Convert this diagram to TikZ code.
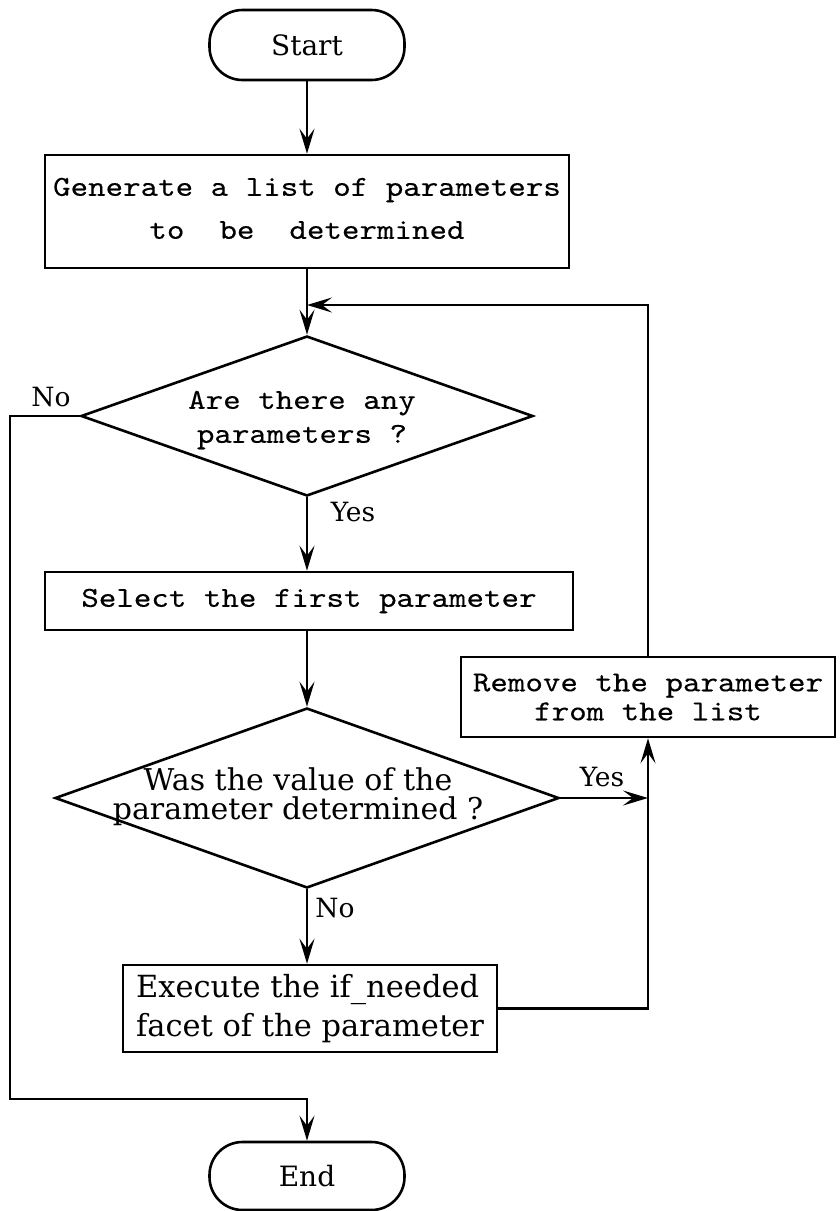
\documentclass[tikz,border=0pt]{standalone}
\usepackage{fontspec}
\usetikzlibrary{shapes.geometric,arrows.meta}
\newfontfamily\typew{lmmono10-regular.otf}[FakeStretch=1.15,FakeBold=0.25]
\newfontfamily\serifd{DejaVu Serif}

\begin{document}
\begin{tikzpicture}[x=1pt,y=-1pt,
  line width=2.6pt,
  flow/.style={draw, line width=2.6pt, inner sep=0pt, anchor=center},
  boxnode/.style={flow, rectangle},
  termnode/.style={flow, rectangle, rounded corners=33pt},
  decnode/.style={flow, diamond},
  mono/.style={font=\typew\fontsize{29}{34}\selectfont, align=center},
  serif/.style={font=\serifd\fontsize{28}{32}\selectfont},
  lbl/.style={font=\serifd\fontsize{26.5}{30}\selectfont, inner sep=0pt},
  arr/.style={-{Stealth[length=25pt,width=15pt,inset=10pt]}}
]
\useasboundingbox (0,0) rectangle (839,1211);

% terminals
\node[termnode, serif, minimum width=195pt, minimum height=70pt] (start) at (307,45) {Start};
\node[termnode, serif, minimum width=195pt, minimum height=68pt] (end) at (307,1176) {End};

% process boxes
\node[boxnode, mono, font=\typew\fontsize{29}{43}\selectfont,
      minimum width=524pt, minimum height=113pt] (gen) at (307,211.5)
  {Generate a list of parameters\\to\ \ be\ \ determined\vphantom{p}};
\node[boxnode, mono, minimum width=528pt, minimum height=58pt] (sel) at (309,601)
  {Select the first parameter};
\node[boxnode, mono, font=\typew\fontsize{29}{29}\selectfont,
      minimum width=374pt, minimum height=80pt] (rem) at (648,697)
  {Remove the parameter\\from the list};
\node[boxnode, serif, font=\serifd\fontsize{30.5}{39}\selectfont, align=left,
      minimum width=374pt, minimum height=87pt] (exe) at (310,1008.5)
  {Execute the if\_needed\\facet of the parameter};

% decisions
\node[decnode, minimum width=452pt, minimum height=160pt] (d1) at (307,416) {};
\node[mono, inner sep=0pt] (d1txt) at (302,420) {Are there any\\parameters ?};
\node[decnode, minimum width=504pt, minimum height=180pt] (d2) at (307,798) {};
\node[serif, font=\serifd\fontsize{30}{29}\selectfont, align=center, inner sep=0pt]
  (d2txt) at (298,797) {Was the value of the\\parameter determined ?};

% branch labels
\node[lbl] (lno1) at (51,397) {No};
\node[lbl] (lyes1) at (353,512) {Yes};
\node[lbl] (lyes2) at (602,777) {Yes};
\node[lbl] (lno2) at (335,908) {No};

% junction points
\coordinate (fbend) at (307,305);
\coordinate (nol) at (10,416);
\coordinate (nob) at (10,1099);
\coordinate (noc) at (307,1099);

% connectors
\draw[arr] (start.south) -- (start.south |- gen.north);
\draw[arr] (gen.south) -- (gen.south |- d1.north);
\draw[arr] (rem.north) |- (fbend);
\draw[arr] (d1.west) -- (nol) -- (nob) -- (noc) -- (end.north);
\draw[arr] (d1.south) -- (d1.south |- sel.north);
\draw[arr] (d2.north |- sel.south) -- (d2.north);
\draw[arr] (d2.east) -- (d2.east -| rem.south);
\draw[arr] (d2.south) -- (d2.south |- exe.north);
\draw[arr] (exe.east) -| (rem.south);
\end{tikzpicture}
\end{document}
